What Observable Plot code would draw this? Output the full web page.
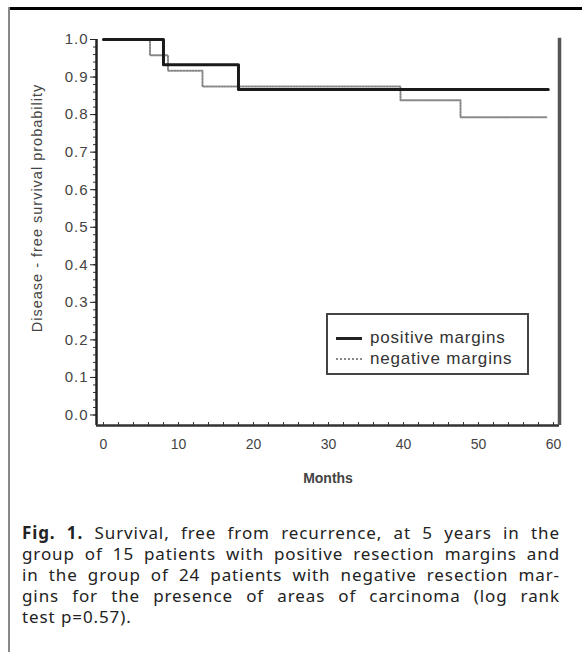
<!DOCTYPE html>
<html>
<head>
<meta charset="utf-8">
<script src="https://cdn.jsdelivr.net/npm/d3@7"></script>
<script src="https://cdn.jsdelivr.net/npm/@observablehq/plot@0.6"></script>
<style>
  html, body { margin: 0; padding: 0; background: #fff; }
  #page { position: relative; width: 582px; height: 652px; overflow: hidden; background: #fff; }
  #topbar { position: absolute; left: 8px; top: 7px; width: 574px; height: 3px; background: #000; }
  #leftbar { position: absolute; left: 8px; top: 7px; width: 2px; height: 645px; background: #888; }
  #chart { position: absolute; left: 0; top: 0; }
  #ylabel { position: absolute; left: 37px; top: 208px; transform: translate(-50%, -50%) rotate(-90deg);
            font-family: "Liberation Sans", Arial, sans-serif; font-size: 14.5px; letter-spacing: 1px; color: #444; white-space: nowrap; }
  #legend { position: absolute; left: 326px; top: 313px; width: 203px; height: 62px; border: 2px solid #444; box-sizing: border-box;
            font-family: "Liberation Sans", Arial, sans-serif; font-size: 17px; letter-spacing: 0.8px; color: #333; }
  .lg { position: absolute; left: 8px; display: flex; align-items: center; white-space: nowrap; }
  .sw { width: 26px; margin-right: 8px; }
  #caption { position: absolute; left: 22px; top: 522px; width: 538px; font-family: "Noto Sans", "Open Sans", sans-serif;
             font-size: 17px; line-height: 21px; letter-spacing: 0.9px; color: #222; }
  #caption .j { text-align: justify; text-align-last: justify; white-space: nowrap; }
</style>
</head>
<body>
<div id="page">
  <div id="topbar"></div>
  <div id="leftbar"></div>
  <div id="chart"></div>
  <div id="ylabel">Disease - free survival probability</div>
  <div id="legend">
    <div class="lg" style="top:13px"><div class="sw" style="border-top:3px solid #222"></div>positive margins</div>
    <div class="lg" style="top:34px"><div class="sw" style="border-top:2px dotted #888"></div>negative margins</div>
  </div>
  <div id="caption">
    <div class="j"><b>Fig. 1.</b> Survival, free from recurrence, at 5 years in the</div>
    <div class="j">group of 15 patients with positive resection margins and</div>
    <div class="j">in the group of 24 patients with negative resection mar-</div>
    <div class="j">gins for the presence of areas of carcinoma (log rank</div>
    <div>test p=0.57).</div>
  </div>
</div>
<script>
// Kaplan–Meier estimates
const posMonths = [0, 8, 18, 59.3];
const posSurv   = [1.0, 0.933, 0.867, 0.867];
const negMonths = [0, 6.2, 8.6, 13.2, 39.6, 47.6, 59.2];
const negSurv   = [1.0, 0.958, 0.917, 0.875, 0.838, 0.793, 0.793];

const xTicks = [0, 10, 20, 30, 40, 50, 60];
const yTicks = [0, 0.1, 0.2, 0.3, 0.4, 0.5, 0.6, 0.7, 0.8, 0.9, 1.0];
const xMinor = d3.range(0, 61, 2);
const yMinor = d3.range(0, 1.001, 0.02);
const xDomain = [-0.93, 60.8];
const yDomain = [-0.028, 1.0];

const pos = posMonths.map((m, i) => ({m, s: posSurv[i]}));
const neg = negMonths.map((m, i) => ({m, s: negSurv[i]}));

const font = "'Liberation Sans', Arial, sans-serif";

const chart = Plot.plot({
  width: 582,
  height: 490,
  marginLeft: 96,
  marginRight: 23,
  marginTop: 39,
  marginBottom: 65,
  style: {fontFamily: font, fontSize: "14px", color: "#444", background: "transparent"},
  x: {domain: xDomain},
  y: {domain: yDomain},
  marks: [
    Plot.axisY({ticks: yMinor, tickSize: 3, text: null, label: null, stroke: "#333"}),
    Plot.axisY({ticks: yTicks, tickSize: 6, tickPadding: 2, tickFormat: d3.format(".1f"), stroke: "#222",
      label: null, fontSize: 15}),
    Plot.axisX({ticks: xMinor, tickSize: -3, text: null, label: null, stroke: "#333"}),
    Plot.axisX({ticks: xTicks, tickSize: 0, tickPadding: 14, tickFormat: d3.format("d"),
      label: "Months", labelAnchor: "center", labelArrow: "none", labelOffset: 57, fontSize: 14}),
    Plot.ruleX([xDomain[0]], {stroke: "#222", strokeWidth: 2.5}),
    Plot.ruleY([yDomain[0]], {stroke: "#333", strokeWidth: 2.5}),
    Plot.ruleX([xDomain[1]], {y1: yDomain[0], y2: 1.003, stroke: "#555", strokeWidth: 3.5}),
    Plot.line(neg, {x: "m", y: "s", curve: "step-after", stroke: "#888", strokeWidth: 2, strokeDasharray: "1.5,1.5"}),
    Plot.line(pos, {x: "m", y: "s", curve: "step-after", stroke: "#1a1a1a", strokeWidth: 3})
  ]
});
document.getElementById("chart").appendChild(chart);
const svg = d3.select(chart);
svg.selectAll("text").filter(function(){ return this.textContent === "Months"; }).attr("font-weight", "bold");
svg.selectAll("text").filter(function(){ return /^\d\.\d$/.test(this.textContent); }).attr("letter-spacing", "1px");
</script>
</body>
</html>
